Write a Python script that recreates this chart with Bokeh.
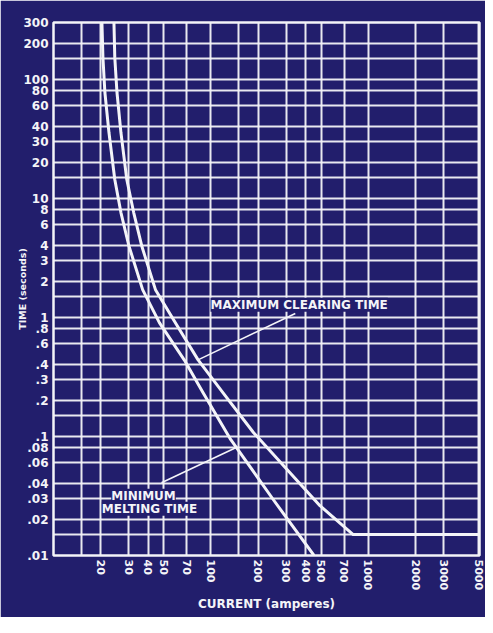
from bokeh.plotting import figure
from bokeh.models import Range1d, FixedTicker, Label, ColumnDataSource
from bokeh.embed import file_html
from bokeh.resources import INLINE

# ---------------- data ----------------
# Minimum melting time curve
mm_current = [20.3, 20.6, 21.2, 22.5, 24.5, 26.8, 30.1, 36.8, 47.1, 67.6, 89.1, 133.6, 249, 451]
mm_time = [300, 152, 77.5, 35.7, 14.4, 7.6, 4.0, 1.71, 0.90, 0.44, 0.233, 0.094, 0.0294, 0.01]

# Maximum clearing time curve
mc_current = [24.2, 24.5, 25.3, 26.8, 29.2, 32.3, 36.3, 44.4, 59.4, 82.8, 119, 186, 305, 492,
              800, 6000]
mc_time = [300, 152, 77.5, 35.7, 14.4, 7.6, 4.0, 1.71, 0.90, 0.44, 0.233, 0.108, 0.0526,
           0.0262, 0.015, 0.015]

# Axis ticks / labels
x_ticks = [20, 30, 40, 50, 70, 100, 200, 300, 400, 500, 700, 1000, 2000, 3000, 5000]
x_tick_labels = ["20", "30", "40", "50", "70", "100", "200", "300", "400", "500",
                 "700", "1000", "2000", "3000", "5000"]
x_grid = [10, 15, 20, 30, 40, 50, 70, 100, 150, 200, 300, 400, 500, 700,
          1000, 2000, 3000, 5000]

y_ticks = [300, 200, 100, 80, 60, 40, 30, 20, 10, 8, 6, 4, 3, 2, 1, 0.8, 0.6, 0.4,
           0.3, 0.2, 0.1, 0.08, 0.06, 0.04, 0.03, 0.02, 0.01]
y_tick_labels = ["300", "200", "100", "80", "60", "40", "30", "20", "10", "8", "6", "4",
                 "3", "2", "1", ".8", ".6", ".4", ".3", ".2", ".1", ".08", ".06", ".04",
                 ".03", ".02", ".01"]
y_grid = [0.01, 0.015, 0.02, 0.03, 0.04, 0.06, 0.08, 0.1, 0.15, 0.2, 0.3, 0.4, 0.6,
          0.8, 1, 1.5, 2, 3, 4, 6, 8, 10, 15, 20, 30, 40, 60, 80, 100, 150, 200, 300]

# Annotation anchors (current, time)
max_clear_label = (363, 1.28)
max_clear_pointer = [(343, 1.08), (82.8, 0.44)]
min_melt_label1 = (37.3, 0.0318)
min_melt_label2 = (40.7, 0.0247)
min_melt_pointer = [(48.5, 0.0409), (143.5, 0.0805)]

NAVY = "#221e6c"
WHITE = "#f4f4f8"
FONT = "DejaVu Sans"

p = figure(width=485, height=617, x_axis_type="log", y_axis_type="log",
           x_range=Range1d(10, 5070), y_range=Range1d(0.01, 300),
           output_backend="svg", toolbar_location=None,
           min_border_left=53, min_border_right=6, min_border_top=22,
           min_border_bottom=62)

p.background_fill_color = NAVY
p.border_fill_color = NAVY
p.outline_line_color = WHITE
p.outline_line_width = 2.5

# grids
p.xgrid.ticker = FixedTicker(ticks=x_grid)
p.ygrid.ticker = FixedTicker(ticks=y_grid)
for g in (p.xgrid, p.ygrid):
    g.grid_line_color = WHITE
    g.grid_line_width = 2
    g.grid_line_alpha = 0.95

# x axis
p.xaxis.ticker = FixedTicker(ticks=x_ticks)
p.xaxis.major_label_overrides = dict(zip(x_ticks, x_tick_labels))
p.xaxis.major_label_orientation = "vertical"
p.xaxis.major_label_text_font = FONT
p.xaxis.major_label_text_font_style = "bold"
p.xaxis.major_label_text_font_size = "11px"
p.xaxis.major_label_text_color = WHITE
p.xaxis.major_label_standoff = 4
p.xaxis.axis_label = "CURRENT (amperes)"
p.xaxis.axis_label_text_font = FONT
p.xaxis.axis_label_text_font_style = "bold"
p.xaxis.axis_label_text_font_size = "12px"
p.xaxis.axis_label_text_color = WHITE
p.xaxis.axis_label_standoff = 4

# y axis
p.yaxis.ticker = FixedTicker(ticks=y_ticks)
p.yaxis.major_label_overrides = dict(zip(y_ticks, y_tick_labels))
p.yaxis.major_label_text_font = FONT
p.yaxis.major_label_text_font_style = "bold"
p.yaxis.major_label_text_font_size = "12px"
p.yaxis.major_label_text_color = WHITE
p.yaxis.major_label_standoff = 5
p.yaxis.axis_label = "TIME (seconds)"
p.yaxis.axis_label_text_font = FONT
p.yaxis.axis_label_text_font_style = "bold"
p.yaxis.axis_label_text_font_size = "9.5px"
p.yaxis.axis_label_text_color = WHITE
p.yaxis.axis_label_standoff = -8

for ax in (p.xaxis, p.yaxis):
    ax.axis_line_color = None
    ax.major_tick_line_color = None
    ax.minor_tick_line_color = None
    ax.major_tick_out = 0
    ax.major_tick_in = 0

# curves
p.line(mm_current, mm_time, line_color=WHITE, line_width=3, line_join="round")
p.line(mc_current, mc_time, line_color=WHITE, line_width=3, line_join="round")

# pointers
ptr = ColumnDataSource(dict(
    x0=[max_clear_pointer[0][0], min_melt_pointer[0][0]],
    y0=[max_clear_pointer[0][1], min_melt_pointer[0][1]],
    x1=[max_clear_pointer[1][0], min_melt_pointer[1][0]],
    y1=[max_clear_pointer[1][1], min_melt_pointer[1][1]],
))
p.segment("x0", "y0", "x1", "y1", source=ptr, line_color=WHITE, line_width=1.6)

def add_label(pos, txt):
    p.add_layout(Label(x=pos[0], y=pos[1], text=txt, text_align="center",
                       text_baseline="middle", text_color=WHITE,
                       text_font=FONT, text_font_style="bold",
                       text_font_size="12px",
                       background_fill_color=NAVY, background_fill_alpha=1.0))

add_label(max_clear_label, "MAXIMUM CLEARING TIME")
add_label(min_melt_label1, "MINIMUM")
add_label(min_melt_label2, "MELTING TIME")

open("out.html", "w").write(file_html(p, INLINE))
